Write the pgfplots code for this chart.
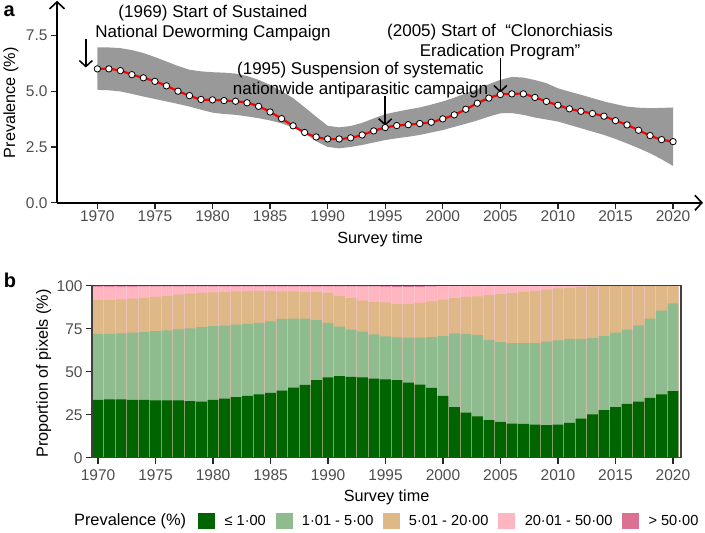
\documentclass[border=0pt]{standalone}
\usepackage{fontspec}
\setmainfont{Liberation Sans}
\usepackage{pgfplots}
\pgfplotsset{compat=1.18}
\usepackage{pgfplotstable}
\usetikzlibrary{arrows.meta}

\definecolor{dg}{HTML}{006400}
\definecolor{lg}{HTML}{8FBC8F}
\definecolor{tanc}{HTML}{DEB887}
\definecolor{pinkc}{HTML}{FFB6C1}
\definecolor{dpink}{HTML}{DB7093}
\definecolor{bandc}{HTML}{999999}
\definecolor{tickgray}{HTML}{4D4D4D}

\pgfplotstableread{
year v
1970 6.00
1971 6.00
1972 5.92
1973 5.74
1974 5.60
1975 5.44
1976 5.24
1977 5.00
1978 4.80
1979 4.63
1980 4.61
1981 4.58
1982 4.55
1983 4.48
1984 4.32
1985 4.07
1986 3.77
1987 3.45
1988 3.15
1989 2.95
1990 2.86
1991 2.86
1992 2.91
1993 3.04
1994 3.22
1995 3.37
1996 3.46
1997 3.50
1998 3.55
1999 3.61
2000 3.76
2001 3.94
2002 4.19
2003 4.46
2004 4.69
2005 4.85
2006 4.88
2007 4.88
2008 4.72
2009 4.54
2010 4.37
2011 4.21
2012 4.10
2013 4.00
2014 3.88
2015 3.68
2016 3.49
2017 3.25
2018 3.01
2019 2.83
2020 2.74
}\prevdata

% uncertainty band: upper edge 1970->2020, then lower edge 2020->1970
\pgfplotstableread{
year v
1970 6.96
1971 6.96
1972 6.93
1973 6.84
1974 6.71
1975 6.53
1976 6.33
1977 6.13
1978 5.96
1979 5.89
1980 5.85
1981 5.83
1982 5.79
1983 5.68
1984 5.51
1985 5.28
1986 5.00
1987 4.69
1988 4.28
1989 3.86
1990 3.45
1991 3.38
1992 3.44
1993 3.58
1994 3.78
1995 3.97
1996 4.08
1997 4.18
1998 4.27
1999 4.40
2000 4.54
2001 4.71
2002 4.90
2003 5.09
2004 5.31
2005 5.51
2006 5.64
2007 5.61
2008 5.50
2009 5.36
2010 5.13
2011 4.98
2012 4.84
2013 4.69
2014 4.54
2015 4.42
2016 4.31
2017 4.26
2018 4.24
2019 4.25
2020 4.27
2020 1.65
2019 1.95
2018 2.22
2017 2.45
2016 2.66
2015 2.86
2014 3.04
2013 3.19
2012 3.34
2011 3.49
2010 3.64
2009 3.73
2008 3.82
2007 3.94
2006 4.02
2005 4.01
2004 3.86
2003 3.69
2002 3.54
2001 3.40
2000 3.26
1999 3.15
1998 3.04
1997 2.96
1996 2.89
1995 2.81
1994 2.70
1993 2.59
1992 2.50
1991 2.44
1990 2.50
1989 2.76
1988 3.11
1987 3.37
1986 3.56
1985 3.69
1984 3.79
1983 3.87
1982 3.94
1981 3.98
1980 4.04
1979 4.17
1978 4.31
1977 4.43
1976 4.54
1975 4.65
1974 4.76
1973 4.88
1972 4.99
1971 5.04
1970 5.06
}\band

% cumulative tops of each class (%)
\pgfplotstableread{
year dg lg tan pink
1970 33.7 72.0 91.7 99.5
1971 34.0 72.0 91.7 99.5
1972 34.0 72.3 92.1 99.5
1973 33.7 72.7 92.5 99.5
1974 33.7 73.1 92.8 99.6
1975 33.3 73.7 93.6 99.6
1976 33.3 74.1 94.0 99.7
1977 33.3 74.7 94.8 99.7
1978 32.9 75.2 95.4 99.7
1979 32.7 76.0 95.9 99.7
1980 33.7 76.6 96.1 99.7
1981 34.4 76.8 96.3 99.7
1982 35.2 77.4 96.7 99.7
1983 36.0 77.9 96.9 99.7
1984 36.8 78.5 97.1 99.7
1985 37.7 79.3 96.9 99.7
1986 39.1 80.7 96.7 99.6
1987 40.8 80.9 96.7 99.6
1988 42.4 80.9 96.5 99.7
1989 45.1 80.1 96.3 99.7
1990 46.8 78.5 95.9 99.7
1991 47.4 76.2 94.2 99.7
1992 47.0 74.5 92.8 99.7
1993 46.8 73.3 91.3 99.7
1994 46.0 71.8 90.5 99.6
1995 45.6 70.6 90.3 99.5
1996 45.1 70.0 89.3 99.2
1997 43.7 69.8 89.3 99.2
1998 42.6 69.8 90.1 99.4
1999 40.6 70.2 90.9 99.7
2000 36.0 70.8 91.9 99.8
2001 29.4 72.3 92.8 99.8
2002 26.3 72.1 93.6 99.8
2003 24.0 71.4 93.8 99.8
2004 21.9 68.5 94.6 99.8
2005 20.9 67.3 95.2 99.8
2006 19.9 66.7 95.7 99.8
2007 19.7 66.7 96.5 99.8
2008 19.3 66.7 97.1 99.9
2009 19.0 67.5 97.7 99.9
2010 19.3 68.3 98.5 99.9
2011 20.3 69.2 98.8 99.9
2012 22.8 69.2 99.3 100
2013 25.3 69.6 99.7 100
2014 27.7 70.8 100 100
2015 29.4 72.7 100 100
2016 31.3 74.5 100 100
2017 32.7 77.0 100 100
2018 34.8 80.9 100 100
2019 36.8 85.5 100 100
2020 38.7 89.7 100 100
}\pixdata

\newcommand{\legbox}[1]{\addlegendimage{legend image code/.code={\fill[#1] (0pt,-7.5pt) rectangle (16pt,7.5pt);}}}
\newcommand{\lf}[2]{\makebox[#1][l]{\fontsize{14.6}{17}\selectfont #2}}

\begin{document}
\begin{tikzpicture}

% ---------------- panel a ----------------
\begin{axis}[
  at={(57pt,-202pt)}, anchor=south west, scale only axis,
  width=646pt, height=202pt,
  xmin=1966.5, xmax=2022.6, ymin=0, ymax=9.05,
  axis lines=left, clip=false,
  axis line style={line width=1.6pt, black},
  every outer x axis line/.append style={-{Straight Barb[length=7pt,width=15pt,line width=1.6pt]}},
  every outer y axis line/.append style={-{Straight Barb[length=7pt,width=15pt,line width=1.6pt]}},
  xtick={1970,1975,...,2020}, ytick={0,2.5,5,7.5},
  tick align=outside, major tick length=6pt,
  tick style={line width=1.2pt, black!85},
  /pgf/number format/assume math mode=true,
  ticklabel style={font=\fontsize{15.5}{18}\selectfont, text=tickgray},
  xticklabel style={/pgf/number format/1000 sep={}, yshift=2pt},
  yticklabel style={/pgf/number format/.cd, fixed, fixed zerofill, precision=1},
  xlabel={Survey time}, ylabel={Prevalence (\%)},
  label style={font=\fontsize{16.2}{19}\selectfont},
  xlabel style={at={(axis description cs:0.5,0)}, anchor=base, yshift=-41pt},
  ylabel style={at={(axis description cs:-0.065,0.495)}, anchor=base},
]
\addplot[fill=bandc, draw=none, forget plot] table[x=year,y=v] {\band} -- cycle;
\addplot[red, line width=2.2pt, smooth, no marks] table[x=year,y=v] {\prevdata};
\addplot[only marks, mark=*, mark size=3.2pt, mark options={fill=white, draw=black, line width=0.8pt}] table[x=year,y=v] {\prevdata};

\begin{scope}[font=\fontsize{17}{20}\selectfont]
\node[align=center] at (axis cs:1980.04,8.05) {(1969) Start of Sustained\\National Deworming Campaign};
\node[align=center] at (axis cs:1992.85,5.48) {(1995) Suspension of systematic\\nationwide antiparasitic campaign};
\node[align=center] at (axis cs:2004.98,7.20) {(2005) Start of\ \ “Clonorchiasis\\Eradication Program”};
\end{scope}
\draw[-{Straight Barb[length=6pt,width=13pt,line width=1.5pt]}, line width=1.5pt] (axis cs:1969,7.33) -- (axis cs:1969,6.06);
\draw[-{Straight Barb[length=6pt,width=13pt,line width=1.5pt]}, line width=1.5pt] (axis cs:1995,4.79) -- (axis cs:1995,3.45);
\draw[-{Straight Barb[length=6pt,width=13pt,line width=1.5pt]}, line width=1.5pt] (axis cs:2005,6.48) -- (axis cs:2005,4.94);
\end{axis}

% ---------------- panel b ----------------
\begin{axis}[
  at={(92pt,-457pt)}, anchor=south west, scale only axis,
  width=589pt, height=172pt,
  xmin=1969.48, xmax=2020.7, ymin=0, ymax=100,
  ybar, bar width=0.92, bar shift=0pt,
  axis on top,
  axis line style={line width=1.2pt, black!75},
  xtick={1970,1975,...,2020}, ytick={0,25,50,75,100},
  xtick pos=bottom, ytick pos=left,
  tick align=outside, major tick length=6pt,
  tick style={line width=1.2pt, black!85},
  /pgf/number format/assume math mode=true,
  ticklabel style={font=\fontsize{15.5}{18}\selectfont, text=tickgray},
  xticklabel style={/pgf/number format/1000 sep={}, yshift=-2pt},
  xlabel={Survey time}, ylabel={Proportion of pixels (\%)},
  label style={font=\fontsize{16.2}{19}\selectfont},
  xlabel style={at={(axis description cs:0.5,0)}, anchor=base, yshift=-44pt},
  ylabel style={at={(axis description cs:-0.075,0.49)}, anchor=base},
  legend style={at={(0.4920,-0.3663)}, anchor=center, draw=none, fill=none, inner sep=0pt,
    /tikz/every odd column/.append style={column sep=8pt},
    /tikz/every even column/.append style={column sep=10pt}},
  legend columns=-1,
]
\addplot[fill=dpink, draw=none, forget plot] table[x=year, y expr=100] {\pixdata};
\addplot[fill=pinkc, draw=none, forget plot] table[x=year, y=pink] {\pixdata};
\addplot[fill=tanc, draw=none, forget plot] table[x=year, y=tan] {\pixdata};
\addplot[fill=lg, draw=none, forget plot] table[x=year, y=lg] {\pixdata};
\addplot[fill=dg, draw=none, forget plot] table[x=year, y=dg] {\pixdata};

\addlegendimage{empty legend}\addlegendentry{\fontsize{16.4}{19}\selectfont Prevalence (\%)}
\legbox{dg}\addlegendentry{\lf{39pt}{≤ 1·00}}
\legbox{lg}\addlegendentry{\lf{68.6pt}{1·01 - 5·00}}
\legbox{tanc}\addlegendentry{\lf{77.4pt}{5·01 - 20·00}}
\legbox{pinkc}\addlegendentry{\lf{85.4pt}{20·01 - 50·00}}
\legbox{dpink}\addlegendentry{\lf{49pt}{> 50·00}}
\end{axis}

\node[font=\bfseries\fontsize{20}{22}\selectfont] at (9pt,-10.5pt) {a};
\node[font=\bfseries\fontsize{20}{22}\selectfont] at (10pt,-280pt) {b};
\path (0pt,0pt) rectangle (705pt,-532pt);
\end{tikzpicture}
\end{document}
